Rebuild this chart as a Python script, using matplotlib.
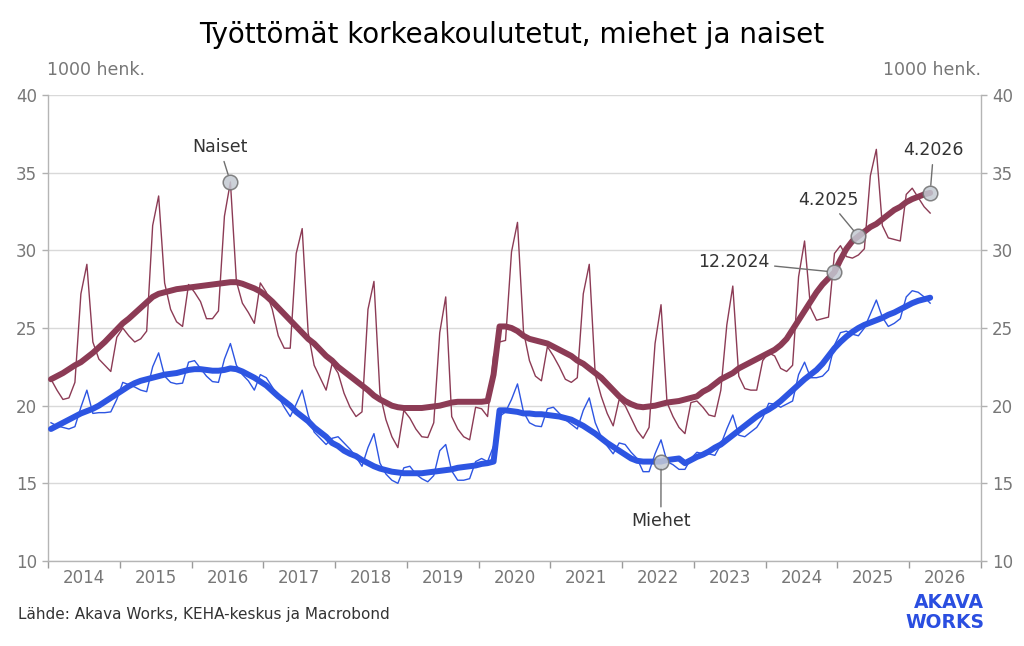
import numpy as np
import matplotlib
matplotlib.use("Agg")
import matplotlib.pyplot as plt

# Monthly data, 1.2014 - 4.2026 (1000 persons)
start_year = 2014

naiset_kk = [
    21.7, 21.0, 20.4, 20.5, 21.5, 27.2, 29.1, 24.1, 23.0, 22.6, 22.2, 24.4,   # 2014
    25.0, 24.5, 24.1, 24.3, 24.8, 31.6, 33.5, 27.9, 26.2, 25.4, 25.1, 27.8,   # 2015
    27.3, 26.7, 25.6, 25.6, 26.1, 32.2, 34.4, 28.0, 26.6, 26.0, 25.3, 27.9,   # 2016
    27.3, 26.2, 24.5, 23.7, 23.7, 29.8, 31.4, 24.7, 22.6, 21.8, 21.0, 22.7,   # 2017
    22.1, 20.8, 19.9, 19.3, 19.6, 26.2, 28.0, 20.8, 19.1, 18.0, 17.3, 19.7,   # 2018
    19.2, 18.5, 18.0, 17.95, 18.9, 24.7, 27.0, 19.3, 18.5, 18.0, 17.8, 19.9,  # 2019
    19.8, 19.3, 23.2, 24.1, 24.2, 29.9, 31.8, 24.8, 22.9, 21.9, 21.6, 23.8,   # 2020
    23.2, 22.5, 21.7, 21.5, 21.8, 27.2, 29.1, 22.0, 20.6, 19.5, 18.7, 20.4,   # 2021
    20.0, 19.2, 18.4, 17.9, 18.6, 24.0, 26.5, 20.2, 19.3, 18.6, 18.2, 20.2,   # 2022
    20.3, 19.9, 19.4, 19.3, 21.0, 25.2, 27.7, 21.9, 21.1, 21.0, 21.0, 22.9,   # 2023
    23.4, 23.2, 22.4, 22.2, 22.6, 28.3, 30.6, 26.3, 25.5, 25.6, 25.7, 29.8,   # 2024
    30.3, 29.6, 29.5, 29.7, 30.1, 34.8, 36.5, 31.6, 30.8, 30.7, 30.6, 33.6,   # 2025
    34.0, 33.4, 32.8, 32.4,                                                   # 2026
]

naiset_trendi = [
    21.7, 21.9, 22.1, 22.35, 22.6, 22.8, 23.1, 23.4, 23.75, 24.1, 24.5, 24.9,
    25.3, 25.6, 25.95, 26.3, 26.65, 27.0, 27.2, 27.3, 27.4, 27.5, 27.55, 27.6,
    27.65, 27.7, 27.75, 27.8, 27.85, 27.9, 27.95, 27.95, 27.85, 27.7, 27.55, 27.35,
    27.05, 26.7, 26.3, 25.9, 25.5, 25.1, 24.7, 24.3, 24.0, 23.6, 23.2, 22.9,
    22.5, 22.2, 21.9, 21.6, 21.3, 21.0, 20.65, 20.4, 20.2, 20.0, 19.9, 19.85,
    19.85, 19.85, 19.85, 19.9, 19.95, 20.0, 20.1, 20.2, 20.25, 20.25, 20.25, 20.25,
    20.25, 20.3, 22.0, 25.1, 25.1, 25.0, 24.8, 24.5, 24.3, 24.2, 24.1, 24.0,
    23.8, 23.6, 23.4, 23.2, 22.9, 22.7, 22.4, 22.1, 21.8, 21.4, 21.0, 20.6,
    20.3, 20.1, 19.95, 19.9, 19.95, 20.0, 20.1, 20.2, 20.25, 20.3, 20.4, 20.5,
    20.6, 20.9, 21.1, 21.4, 21.7, 21.9, 22.1, 22.4, 22.6, 22.8, 23.0, 23.2,
    23.4, 23.6, 23.9, 24.3, 24.9, 25.5, 26.1, 26.7, 27.3, 27.8, 28.2, 28.6,
    29.4, 30.1, 30.6, 30.9, 31.2, 31.5, 31.7, 32.0, 32.3, 32.6, 32.8, 33.1,
    33.3, 33.45, 33.6, 33.7,
]

miehet_kk = [
    18.9, 18.7, 18.6, 18.5, 18.65, 19.9, 21.0, 19.5, 19.55, 19.55, 19.6, 20.4,
    21.5, 21.35, 21.2, 21.0, 20.9, 22.5, 23.4, 21.9, 21.5, 21.4, 21.45, 22.8,
    22.9, 22.4, 21.9, 21.55, 21.5, 23.0, 24.0, 22.6, 22.0, 21.6, 21.0, 22.0,
    21.8, 21.2, 20.6, 19.9, 19.3, 20.1, 21.0, 19.4, 18.3, 17.9, 17.5, 17.9,
    18.0, 17.6, 17.2, 16.7, 16.1, 17.3, 18.2, 16.3, 15.6, 15.2, 15.0, 16.0,
    16.1, 15.6, 15.3, 15.1, 15.5, 17.1, 17.5, 15.8, 15.2, 15.2, 15.3, 16.4,
    16.6, 16.4, 17.4, 19.3, 19.6, 20.4, 21.4, 19.6, 18.9, 18.7, 18.65, 19.8,
    19.9, 19.5, 19.1, 18.8, 18.5, 19.7, 20.5, 18.9, 18.0, 17.4, 16.9, 17.6,
    17.5, 17.0, 16.6, 15.75, 15.75, 16.9, 17.8, 16.4, 16.2, 15.9, 15.9, 16.6,
    17.0, 16.9, 16.9, 16.8, 17.5, 18.5, 19.4, 18.1, 18.0, 18.3, 18.6, 19.2,
    20.15, 20.1, 19.9, 20.1, 20.3, 22.0, 22.8, 21.8, 21.8, 21.9, 22.3, 23.9,
    24.7, 24.8, 24.6, 24.5, 25.0, 25.9, 26.8, 25.7, 25.1, 25.3, 25.6, 27.0,
    27.4, 27.3, 27.0, 26.6,
]

miehet_trendi = [
    18.5, 18.7, 18.9, 19.1, 19.3, 19.5, 19.65, 19.8, 20.0, 20.25, 20.5, 20.75,
    21.0, 21.25, 21.45, 21.6, 21.7, 21.8, 21.9, 22.0, 22.05, 22.1, 22.2, 22.3,
    22.35, 22.35, 22.3, 22.25, 22.25, 22.3, 22.4, 22.35, 22.2, 22.0, 21.8, 21.55,
    21.3, 20.95, 20.6, 20.3, 20.0, 19.6, 19.3, 19.0, 18.6, 18.3, 18.0, 17.6,
    17.4, 17.1, 16.9, 16.75, 16.5, 16.3, 16.1, 15.95, 15.85, 15.75, 15.7, 15.65,
    15.65, 15.65, 15.65, 15.7, 15.75, 15.8, 15.85, 15.9, 16.0, 16.05, 16.1, 16.15,
    16.25, 16.3, 16.4, 19.7, 19.7, 19.65, 19.6, 19.5, 19.5, 19.45, 19.45, 19.4,
    19.35, 19.3, 19.2, 19.1, 18.9, 18.7, 18.45, 18.2, 17.9, 17.6, 17.35, 17.1,
    16.85, 16.6, 16.45, 16.4, 16.4, 16.4, 16.4, 16.5, 16.55, 16.6, 16.3, 16.5,
    16.7, 16.85, 17.05, 17.3, 17.5, 17.8, 18.1, 18.4, 18.7, 19.0, 19.3, 19.55,
    19.75, 20.0, 20.3, 20.65, 21.0, 21.35, 21.7, 22.0, 22.3, 22.7, 23.2, 23.7,
    24.1, 24.45, 24.75, 25.0, 25.2, 25.35, 25.5, 25.65, 25.85, 26.0, 26.2, 26.4,
    26.6, 26.75, 26.85, 26.95,
]

years = list(range(2014, 2027))

# labelled points: (text, series, month index, text x, text y)
labels = [
    ("Naiset", "naiset_kk", 30, 2016.39, 36.65),
    ("Miehet", "miehet_trendi", 102, 2022.54, 12.55),
    ("12.2024", "naiset_trendi", 131, 2023.55, 29.25),
    ("4.2025", "naiset_trendi", 135, 2024.87, 33.25),
    ("4.2026", "naiset_trendi", 147, 2026.34, 36.45),
]

RED = "#8c3b55"
BLUE = "#2d55e2"
GREY = "#777777"

series = {
    "naiset_kk": naiset_kk,
    "naiset_trendi": naiset_trendi,
    "miehet_kk": miehet_kk,
    "miehet_trendi": miehet_trendi,
}

x = start_year + (np.arange(len(naiset_kk)) + 0.5) / 12

fig = plt.figure(figsize=(10.24, 6.46), dpi=100)
ax = fig.add_axes([48 / 1024, 85 / 646, 933 / 1024, 466 / 646])

ax.plot(x, naiset_kk, color=RED, lw=1.0, zorder=3)
ax.plot(x, miehet_kk, color=BLUE, lw=1.0, zorder=3)
ax.plot(x, naiset_trendi, color=RED, lw=4.3, solid_capstyle="round",
        solid_joinstyle="round", zorder=4)
ax.plot(x, miehet_trendi, color=BLUE, lw=4.3, solid_capstyle="round",
        solid_joinstyle="round", zorder=4)

ax.set_xlim(2014, 2027)
ax.set_ylim(10, 40)

# year boundaries as ticks, labels in the middle of each year
ax.set_xticks(range(2014, 2028))
ax.set_xticklabels([])
ax.set_xticks([y + 0.5 for y in years], minor=True)
ax.set_xticklabels([str(y) for y in years], minor=True)
ax.tick_params(axis="x", which="major", length=5, width=1, color="#9a9a9a",
               direction="out")
ax.tick_params(axis="x", which="minor", length=0, pad=6, labelsize=12,
               labelcolor=GREY)

ax.set_yticks(range(10, 41, 5))
ax.tick_params(axis="y", which="major", left=True, right=True,
               labelleft=True, labelright=True, length=4, width=1,
               color="#b0b0b0", labelsize=12, labelcolor=GREY, pad=4)

ax.grid(axis="y", color="#d9d9d9", lw=1, zorder=0)
ax.set_axisbelow(True)
ax.spines["top"].set_visible(False)
for s in ["left", "right", "bottom"]:
    ax.spines[s].set_color("#b5b5b5")
    ax.spines[s].set_linewidth(1)

# point labels
for text, key, idx, tx, ty in labels:
    px, py = x[idx], series[key][idx]
    ax.plot(px, py, "o", ms=10.5, mfc="#c4c9d2", mec="#6f6f6f", mew=1.1,
            alpha=0.85, zorder=6)
    ax.annotate(text, xy=(px, py), xytext=(tx, ty), ha="center", va="center",
                fontsize=12.5, color="#333333", zorder=7,
                arrowprops=dict(arrowstyle="-", color="#6f6f6f", lw=1.0,
                                shrinkA=2, shrinkB=5.5))

fig.text(0.5, 1 - 35 / 646, "Työttömät korkeakoulutetut, miehet ja naiset",
         ha="center", va="center", fontsize=20, color="black")
fig.text(47 / 1024, 1 - 70 / 646, "1000 henk.", ha="left", va="center",
         fontsize=12.5, color=GREY)
fig.text(981 / 1024, 1 - 70 / 646, "1000 henk.", ha="right", va="center",
         fontsize=12.5, color=GREY)
fig.text(18 / 1024, 1 - 614 / 646, "Lähde: Akava Works, KEHA-keskus ja Macrobond",
         ha="left", va="center", fontsize=11, color="#333333")
fig.text(984 / 1024, 1 - 603 / 646, "AKAVA", ha="right", va="center",
         fontsize=13.5, fontweight="bold", color="#2a4ee0")
fig.text(984 / 1024, 1 - 622 / 646, "WORKS", ha="right", va="center",
         fontsize=13.5, fontweight="bold", color="#2a4ee0")

fig.savefig("out.png", dpi=100)
